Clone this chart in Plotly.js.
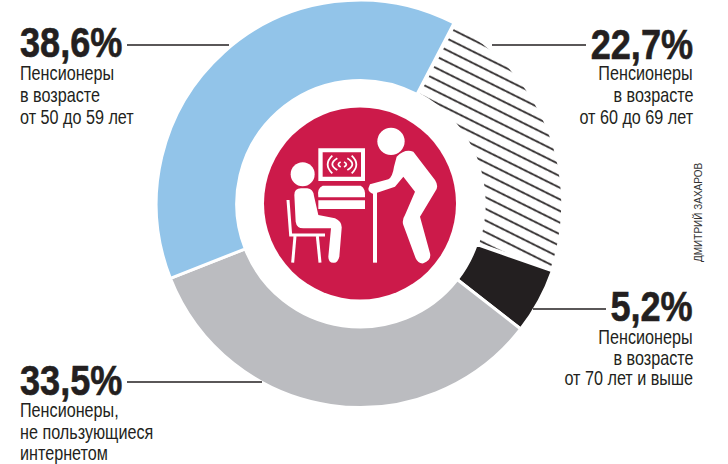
<!DOCTYPE html>
<html><head><meta charset="utf-8">
<script src="https://cdn.plot.ly/plotly-3.0.1.min.js"></script>
<style>html,body{margin:0;padding:0;background:#fff;overflow:hidden}#c{width:728px;height:464px}</style>
</head><body><div id="c"></div>
<script>
const W=728,H=464;
const sliceNames=['Пенсионеры в возрасте от 60 до 69 лет','Пенсионеры в возрасте от 70 лет и выше','Пенсионеры, не пользующиеся интернетом','Пенсионеры в возрасте от 50 до 59 лет'];
const sliceValues=[22.7,5.2,33.5,38.6];
const bigLabels=['22,7%','5,2%','33,5%','38,6%'];
const subLabels=[['Пенсионеры','в возрасте','от 60 до 69 лет'],['Пенсионеры','в возрасте','от 70 лет и выше'],['Пенсионеры,','не пользующиеся','интернетом'],['Пенсионеры','в возрасте','от 50 до 59 лет']];
const credit='ДМИТРИЙ ЗАХАРОВ';
const sliceColors=['#ffffff','#231f20','#bbbcc0','#92c4e9'];
const ink='#231f20', red='#cc1a4a';
const FONT='"Liberation Sans",Arial,sans-serif';
const BIG=42, SMALL=19.5, BIGSCALE=0.86, SMALLSCALE=0.83;
const px=x=>x/W, py=y=>1-y/H;

const place=[
 {x:694,a:'right',big:44,l:[73,95,117]},
 {x:694,a:'right',big:306,l:[337,358,378]},
 {x:19,a:'left',big:380,l:[410,432,453]},
 {x:19,a:'left',big:43,l:[73,95,117]}];
const leaders=[[492,586,45],[533,606,309],[127,262,382],[127,229,45]];

const annotations=[];
const txt=(t,x,y,a,size,bold)=>annotations.push({text:bold?'<b>'+t+'</b>':t,x:px(x),y:py(y),xref:'paper',yref:'paper',xanchor:a,yanchor:'middle',showarrow:false,align:a,borderpad:0,font:{family:FONT,size:size,color:ink}});
bigLabels.forEach((t,i)=>{
  const p=place[i];
  txt(t,p.x,p.big,p.a,BIG,true);
  subLabels[i].forEach((s,j)=>txt(s,p.x,p.l[j],p.a,SMALL,false));
});
annotations.push({text:credit,x:px(698),y:py(212),xref:'paper',yref:'paper',xanchor:'center',yanchor:'middle',textangle:-90,showarrow:false,borderpad:0,font:{family:FONT,size:10,color:'#333333'}});

const zx=v=>px(250+v/3), zy=v=>py(120+v/3);
const conv=d=>{let i=0;return d.replace(/-?\d+(\.\d+)?/g,m=>(i++%2===0?zx(+m):zy(+m)).toFixed(5));};
const fill=(d,c='#fff')=>({type:'path',xref:'paper',yref:'paper',path:conv(d),fillcolor:c,line:{width:0},layer:'above'});
const stroke=(d,w)=>({type:'path',xref:'paper',yref:'paper',path:conv(d),fillcolor:'rgba(0,0,0,0)',line:{color:'#fff',width:w},layer:'above'});
const circ=(cx,cy,r,c)=>({type:'circle',xref:'paper',yref:'paper',x0:px(cx-r),x1:px(cx+r),y0:py(cy+r),y1:py(cy-r),fillcolor:c,line:{width:0},layer:'above'});
const zcirc=(cx,cy,r)=>circ(250+cx/3,120+cy/3,r/3,'#fff');

const shapes=[
 ...leaders.map(([a,b,y])=>({type:'line',xref:'paper',yref:'paper',x0:px(a),x1:px(b),y0:py(y),y1:py(y),line:{color:ink,width:1.3},layer:'above'})),
 circ(360,203.5,96,red),
 fill('M205,85 L345,85 L345,183 L205,183 Z'),
 fill('M218,97 L333,97 L333,170 L218,170 Z',red),
 stroke('M247,107 Q219,133 247,160',1.8),stroke('M305,107 Q333,133 305,160',1.8),
 stroke('M262,115 Q232,133 262,150',1.8),stroke('M292,115 Q322,133 292,150',1.8),
 stroke('M272,126 Q258,133 272,141',1.8),stroke('M282,126 Q296,133 282,141',1.8),
 fill('M218,197 L332,197 Q348,205 345,232 L205,232 Q200,205 218,197 Z'),
 fill('M205,241 L345,241 L345,267 L205,267 Z'),
 zcirc(158,163,36),
 fill('M133,225 Q133,205 153,205 L172,205 Q190,207 192,228 L205,285 L255,295 Q277,305 275,325 L268,410 Q263,430 250,428 Q235,428 235,410 L243,325 L160,325 Q140,325 137,305 Z'),
 stroke('M114,240 L122,345 L225,345',3),stroke('M135,348 L128,428',3),stroke('M202,348 L210,428',3),
 zcirc(423,64,41),
 fill('M369,215 L381,215 L381,428 L369,428 Z'),
 fill('M360,193 L415,178 Q428,170 432,140 L440,110 Q465,85 490,95 L555,180 Q568,200 555,215 L510,290 L540,400 Q545,420 520,430 Q505,432 497,415 L460,315 Q455,300 465,285 L495,215 L460,170 L435,200 L370,222 Q350,215 357,200 Z')
];

const trace={type:'pie',labels:sliceNames,values:sliceValues,sort:false,direction:'clockwise',rotation:27.5,hole:0.605,
 domain:{x:[156/W,564/W],y:[1-407.5/H,1]},textinfo:'none',hoverinfo:'label+value',
 marker:{colors:sliceColors,line:{color:'#fff',width:[5,3,3,3]},
  pattern:{shape:['\\','','',''],size:10.4,solidity:0.16,fgcolor:ink,bgcolor:'#ffffff',fillmode:'replace'}}};
const layout={width:W,height:H,margin:{l:0,r:0,t:0,b:0},paper_bgcolor:'#fff',showlegend:false,annotations,shapes};
Plotly.newPlot('c',[trace],layout,{displayModeBar:false,staticPlot:true}).then(()=>{
  document.querySelectorAll('#c defs pattern').forEach(p=>p.setAttribute('patternTransform','translate(0,1.6) rotate(-18.5)'));
  // condense the labels horizontally about their outer edge (no narrow face is installed)
  document.querySelectorAll('#c .annotation').forEach(g=>{
    const t=g.querySelector('text'); if(!t) return;
    const size=parseFloat(t.style.fontSize)||0;
    if(size<12) return;
    const s=size>30?BIGSCALE:SMALLSCALE;
    const bb=t.getBBox();
    const r=g.getBoundingClientRect();
    const edge=(r.left+r.width/2>W/2)?bb.x+bb.width:bb.x;
    t.setAttribute('transform','translate('+edge+',0) scale('+s+',1) translate('+(-edge)+',0)');
    if(size>30){t.style.stroke=ink;t.style.strokeWidth='0.6px';}
  });
});
</script></body></html>
